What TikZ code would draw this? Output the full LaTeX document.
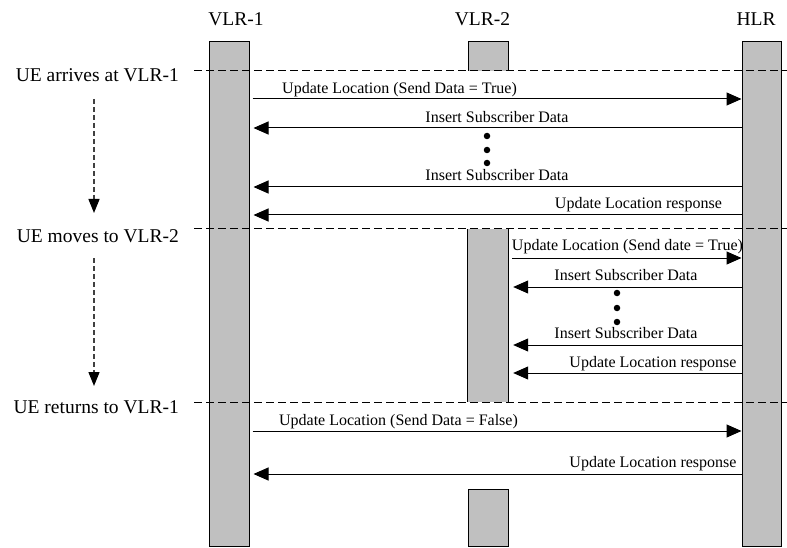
\documentclass[tikz,border=0pt]{standalone}
\usepackage{fontspec}
\setmainfont{Liberation Serif}
\usetikzlibrary{arrows.meta}
\definecolor{bargray}{RGB}{192,192,192}
\tikzset{
  bar/.style={draw=black, fill=bargray, line width=1pt, inner sep=0pt, minimum width=40pt},
  piece/.style={fill=bargray},
  edge/.style={line width=1pt},
  hdr/.style={font=\fontsize{19.5pt}{22pt}\selectfont, anchor=base, inner sep=0pt},
  side/.style={font=\fontsize{19.5pt}{22pt}\selectfont, anchor=base east, inner sep=0pt},
  lbl/.style={font=\fontsize{16pt}{18pt}\selectfont, anchor=base, inner sep=0pt},
  msg/.style={line width=1pt, -{Triangle[length=15pt,width=13pt]}},
  sep/.style={line width=1pt, dash pattern=on 8pt off 4pt},
  flow/.style={line width=1.4pt, draw=black!75, dash pattern=on 5pt off 3pt, -{Triangle[length=14pt,width=11pt,fill=black,color=black]}},
  dot/.style={circle, fill=black, inner sep=0pt, minimum size=6.5pt}
}
\begin{document}
\begin{tikzpicture}[x=1pt,y=-1pt]
\useasboundingbox (0,0) rectangle (787,548);
% lifelines
\node[bar, minimum height=504pt] (vlr1) at (229,294) {};
\node[bar, minimum height=504pt, minimum width=39pt] (hlr) at (761.5,294) {};
% VLR-2 pieces
\fill[piece] (468,42) rectangle (508,71);
\draw[edge] (468,71) -- (468,42) -- (508,42) -- (508,71);
\node[inner sep=0pt, minimum width=40pt, minimum height=173pt, fill=bargray] (vlr2) at (488,315.5) {};
\draw[edge] (vlr2.north west) -- (vlr2.south west);
\draw[edge] (vlr2.north east) -- (vlr2.south east);
\node[bar, minimum height=57pt] (vlr2b) at (488,517.5) {};
% headers
\node[hdr] (h1) at (236,26) {VLR-1};
\node[hdr] (h2) at (482.5,26) {VLR-2};
\node[hdr] (h3) at (756,26) {HLR};
% separators
\coordinate (s1) at (194,71);
\coordinate (s2) at (194,229);
\coordinate (s3) at (194,402);
\draw[sep] (s1) -- (787,71);
\draw[sep] (s2) -- (787,229);
\draw[sep] (s3) -- (787,402);
% side labels
\node[side] (u1) at (179,82) {UE arrives at VLR-1};
\node[side] (u2) at (179,242) {UE moves to VLR-2};
\node[side] (u3) at (179,413) {UE returns to VLR-1};
\coordinate (f1a) at (94,99);
\coordinate (f1b) at (94,213);
\coordinate (f2a) at (94,258);
\coordinate (f2b) at (94,386);
\draw[flow] (f1a) -- (f1b);
\draw[flow] (f2a) -- (f2b);
% phase 1
\draw[msg, shorten <=3pt] (vlr1.east |- 0,99) -- (hlr.west |- 0,99);
\node[lbl] (m1) at (399.5,94) {Update Location (Send Data = True)};
\draw[msg, shorten >=4pt] (hlr.west |- 0,128) -- (vlr1.east |- 0,128);
\node[lbl] (m2) at (497,123) {Insert Subscriber Data};
\node[dot] (d1) at (487,136) {};
\node[dot] (d2) at (487,150) {};
\node[dot] (d3) at (487,163) {};
\draw[msg, shorten >=4pt] (hlr.west |- 0,187) -- (vlr1.east |- 0,187);
\node[lbl] (m3) at (497,181) {Insert Subscriber Data};
\draw[msg, shorten >=4pt] (hlr.west |- 0,215) -- (vlr1.east |- 0,215);
\node[lbl] (m4) at (638.5,208) {Update Location response};
% phase 2
\draw[msg, shorten <=4pt] (vlr2.east |- 0,258) -- (hlr.west |- 0,258);
\node[lbl] (m5) at (627.5,251) {Update Location (Send date = True)};
\draw[msg, shorten >=5pt] (hlr.west |- 0,287) -- (vlr2.east |- 0,287);
\node[lbl] (m6) at (626,280) {Insert Subscriber Data};
\node[dot] (d4) at (617,293) {};
\node[dot] (d5) at (617,308) {};
\node[dot] (d6) at (617,322) {};
\draw[msg, shorten >=5pt] (hlr.west |- 0,345) -- (vlr2.east |- 0,345);
\node[lbl] (m7) at (626,338) {Insert Subscriber Data};
\draw[msg, shorten >=5pt] (hlr.west |- 0,373) -- (vlr2.east |- 0,373);
\node[lbl] (m8) at (653,367) {Update Location response};
% phase 3
\draw[msg, shorten <=3pt] (vlr1.east |- 0,431) -- (hlr.west |- 0,431);
\node[lbl] (m9) at (398.5,425) {Update Location (Send Data = False)};
\draw[msg, shorten >=4pt] (hlr.west |- 0,474) -- (vlr1.east |- 0,474);
\node[lbl] (m10) at (653,467) {Update Location response};
\end{tikzpicture}
\end{document}
